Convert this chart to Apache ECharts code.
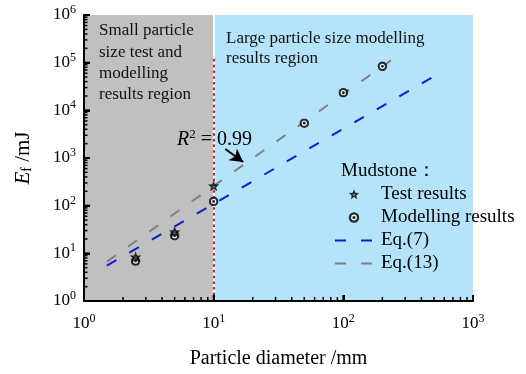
<!DOCTYPE html>
<html><head><meta charset="utf-8">
<script src="https://cdn.jsdelivr.net/npm/echarts@6/dist/echarts.min.js"></script>
<style>html,body{margin:0;padding:0;background:#fff}#c{width:526px;height:374px}</style>
</head><body><div id="c"></div>
<script>
var FONT = "'Liberation Serif','Times New Roman',serif";
// Data
var testX = [2.5, 5, 10];
var testY = [8.3, 28, 257];
var modelX = [2.5, 5, 10, 50, 100, 200];
var modelY = [6.9, 23.4, 123, 5370, 23400, 83700];
var eq7X = [1.5, 490];
var eq7Y = [5.5, 50200];
var eq13X = [1.5, 233];
var eq13Y = [6.7, 112000];
var regionX = [[1, 10], [10, 1000]];
var regionColors = ['#c0c0c0', '#b4e3fb'];
var xMinorTicks = [2,3,4,5,6,7,8,9,20,30,40,50,60,70,80,90,200,300,400,500,600,700,800,900];
var yMinorTicks = [];
[1,10,100,1000,10000,100000].forEach(function(d){[2,3,4,5,6,7,8,9].forEach(function(m){yMinorTicks.push(m*d);});});
var xMajorTicks = [1,10,100,1000];
var yMajorTicks = [1,10,100,1000,10000,100000,1000000];
var boundaryX = 10;
var arrowFrom = [12.3, 1540], arrowTo = [16.9, 826];

function zip(a,b){return a.map(function(v,i){return [v,b[i]];});}

var starSvg = '<svg xmlns="http://www.w3.org/2000/svg" viewBox="0 0 24 24"><polygon points="12,0.5 15,8.4 23.5,8.8 16.9,14 19.1,22.3 12,17.6 4.9,22.3 7.1,14 0.5,8.8 9,8.4" fill="#000"/><circle cx="12" cy="13" r="2.8" fill="#1a5f9a"/></svg>';
var ringSvg = '<svg xmlns="http://www.w3.org/2000/svg" viewBox="0 0 24 24"><circle cx="12" cy="12" r="11.5" fill="#000"/><circle cx="12" cy="12" r="6.3" fill="#fff"/><circle cx="12" cy="12" r="3.4" fill="#000"/></svg>';
var starSym = 'image://data:image/svg+xml;charset=utf-8,' + encodeURIComponent(starSvg);
var ringSym = 'image://data:image/svg+xml;charset=utf-8,' + encodeURIComponent(ringSvg);

function expLabel(v){
  var n = Math.round(Math.log10(v));
  return '{b|10}{s|' + n + '}';
}
var rich = {
  b:{fontSize:17, fontFamily:FONT, color:'#000'},
  s:{fontSize:12, fontFamily:FONT, color:'#000', padding:[0,0,10,0]}
};

function tickRects(api, vals, isX, len, w){
  var out = [];
  var bottom = api.coord([10, 1])[1];
  var left = api.coord([1, 10])[0];
  vals.forEach(function(v){
    var shape;
    if (isX) { var px = api.coord([v, 10])[0]; shape = {x:px-w/2, y:bottom-len, width:w, height:len}; }
    else { var py = api.coord([10, v])[1]; shape = {x:left, y:py-w/2, width:len, height:w}; }
    out.push({type:'rect', shape:shape, style:{fill:'#000'}, z2:100});
  });
  return out;
}

var chart = echarts.init(document.getElementById('c'), null, {renderer:'canvas'});
chart.setOption({
  animation:false,
  grid:{left:84, right:53, top:15, bottom:71},
  xAxis:{type:'log', logBase:10, min:1, max:1000, z:10,
    name:'Particle diameter /mm', nameLocation:'middle', nameGap:48,
    nameTextStyle:{fontSize:20, fontFamily:FONT, color:'#000'},
    axisLine:{show:true, lineStyle:{color:'#000', width:2}},
    axisTick:{show:true, inside:true, length:6, lineStyle:{color:'#000', width:2}},
    axisLabel:{formatter:expLabel, rich:rich, margin:12},
    splitLine:{show:false}, minorTick:{show:false}
  },
  yAxis:{type:'log', logBase:10, min:1, max:1000000, z:10,
    name:'{i|E}{sub|f}{n| /mJ}', nameLocation:'middle', nameGap:50, nameRotate:90,
    nameTextStyle:{fontSize:20, fontFamily:FONT, color:'#000', rich:{
      i:{fontSize:21, fontStyle:'italic', fontFamily:FONT, color:'#000'},
      sub:{fontSize:14, fontFamily:FONT, color:'#000', padding:[8,0,0,0]},
      n:{fontSize:21, fontFamily:FONT, color:'#000'}}},
    axisLine:{show:true, lineStyle:{color:'#000', width:2}},
    axisTick:{show:true, inside:true, length:6, lineStyle:{color:'#000', width:2}},
    axisLabel:{formatter:expLabel, rich:rich, margin:8},
    splitLine:{show:false}, minorTick:{show:false}
  },
  legend:{orient:'vertical', left:334, top:185, padding:0, itemWidth:38, itemHeight:11, itemGap:4,
    textStyle:{fontSize:19, fontFamily:FONT, color:'#000', padding:[0,0,0,3]},
    data:['Test results','Modelling results','Eq.(7)','Eq.(13)']},
  graphic:[
    {type:'text', left:99, top:20, z:50, style:{text:'Small particle\nsize test and\nmodelling\nresults region', fontSize:17, lineHeight:21.4, fontFamily:FONT, fill:'#111'}},
    {type:'text', left:226, top:28, z:50, style:{text:'Large particle size modelling\nresults region', fontSize:17, lineHeight:20.5, fontFamily:FONT, fill:'#111'}},
    {type:'text', left:341, top:162, z:50, style:{text:'Mudstone：', fontSize:19, fontFamily:FONT, fill:'#000'}},
    {type:'text', left:177, top:128, z:50, style:{rich:{
        i:{fontSize:20, fontStyle:'italic', fontFamily:FONT, fill:'#000'},
        s:{fontSize:13, fontFamily:FONT, fill:'#000', padding:[0,0,10,0]},
        n:{fontSize:20, fontFamily:FONT, fill:'#000'}},
      text:'{i|R}{s|2}{n| = 0.99}'}}
  ],
  series:[
    {type:'custom', name:'bg', silent:true, z:1,
      data:regionX.map(function(r,i){return [r[0], r[1], i];}).concat([[1, 1000, 2]]),
      encode:{x:[0,1]},
      renderItem:function(params, api){
        var k = api.value(2);
        if (k === 2) {
          var kids = [].concat(
            tickRects(api, xMinorTicks, true, 4, 1.5),
            tickRects(api, yMinorTicks, false, 3.5, 1.5),
            tickRects(api, xMajorTicks, true, 6, 2),
            tickRects(api, yMajorTicks, false, 6, 2));
          return {type:'group', children:kids};
        }
        var p0 = api.coord([api.value(0), 1000000]);
        var p1 = api.coord([api.value(1), 1]);
        return {type:'rect', shape:{x:p0[0], y:p0[1], width:p1[0]-p0[0], height:p1[1]-p0[1]},
          style:{fill:regionColors[k]}};
      }},
    {type:'line', name:'divider', data:[], z:2, silent:true,
      markLine:{silent:true, symbol:'none', label:{show:false}, animation:false, data:[
        [{coord:[boundaryX,1], lineStyle:{color:'#fff', width:2, type:'solid'}},{coord:[boundaryX,1000000]}],
        [{coord:[boundaryX,1], lineStyle:{color:'#e01010', width:2, type:[2.5,3.2]}},{coord:[boundaryX,133000]}]
      ]}
    },
    {type:'line', name:'Eq.(13)', data:zip(eq13X, eq13Y), symbol:'circle', showSymbol:false, z:3,
      lineStyle:{color:'#808080', width:2, type:[11,15]}, itemStyle:{color:'rgba(0,0,0,0)'}},
    {type:'line', name:'Eq.(7)', data:zip(eq7X, eq7Y), symbol:'circle', showSymbol:false, z:3,
      lineStyle:{color:'#0a1fd0', width:2, type:[11,15]}, itemStyle:{color:'rgba(0,0,0,0)'},
      markLine:{silent:true, symbol:['none','arrow'], symbolSize:[11,13], label:{show:false},
        data:[[{coord:arrowFrom},{coord:arrowTo}]], lineStyle:{color:'#000', width:2, type:'solid'}}},
    {type:'scatter', name:'Modelling results', data:zip(modelX, modelY), symbol:ringSym, symbolSize:10, z:5},
    {type:'scatter', name:'Test results', data:zip(testX, testY), symbol:starSym, symbolSize:12, z:6}
  ]
});
</script></body></html>
